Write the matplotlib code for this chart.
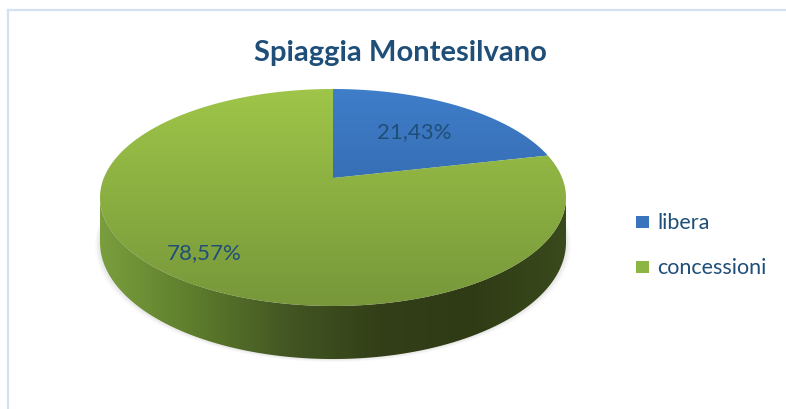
import numpy as np
import matplotlib
matplotlib.use('Agg')
import matplotlib.pyplot as plt
from matplotlib.patches import Polygon, Rectangle
from matplotlib.colors import to_rgb
from matplotlib.lines import Line2D

# ---- data ----
title = 'Spiaggia Montesilvano'
categories = ['libera', 'concessioni']
values = [21.43, 78.57]
value_labels = ['21,43%', '78,57%']
top_colors = [('#3f7eca', '#2c5a98'), ('#9fc649', '#77973a')]
legend_colors = ['#3a74bd', '#8db544']
side_stops = ['#7a9e3e', '#5d7d2c', '#435623', '#333f18', '#2f3b15', '#3a4a1c']
text_color = '#1f4e79'

# ---- layout / projection (pixel space) ----
W, H = 786, 410
CX, CY = 333.0, 179.0
A, B, K, T = 229.2, 105.0, 0.1797, 43.5

fig = plt.figure(figsize=(W / 100, H / 100), dpi=100)
ax = fig.add_axes([0, 0, 1, 1])
ax.set_xlim(0, W)
ax.set_ylim(H, 0)
ax.axis('off')


def proj(t_deg, r=1.0, depth=0.0):
    t = np.radians(t_deg)
    u = r * np.cos(t)
    v = r * np.sin(t)
    den = 1 + K * v
    return CX + A * u / den, CY - B * v / den + depth / den


def grad_colors(stops, n):
    cols = np.array([to_rgb(c) for c in stops])
    xs = np.linspace(0, 1, len(stops))
    q = np.linspace(0, 1, n)
    return np.stack([np.interp(q, xs, cols[:, i]) for i in range(3)], axis=-1)


# shadow under the pie
tt = np.linspace(0, 360, 400)
for off, al in [(5, 0.04), (3.5, 0.05), (2, 0.07)]:
    bx, by = proj(tt, 1.0, T)
    sx = CX + (bx - CX) * (1 + off / 233)
    sy = by + off * 0.6
    ax.add_patch(Polygon(np.column_stack([sx, sy]), closed=True,
                         facecolor='#808080', edgecolor='none', alpha=al, zorder=1))

# side (front visible part)
t_right = np.degrees(np.arcsin(-K))
t_left = 180 - t_right
ts = np.linspace(t_left, 360 + t_right, 300)
tx, ty = proj(ts, 1.0, 0)
bx, by = proj(ts[::-1], 1.0, T)
side_poly = Polygon(np.column_stack([np.r_[tx, bx], np.r_[ty, by]]), closed=True,
                    facecolor='none', edgecolor='none', zorder=2)
ax.add_patch(side_poly)
x0, x1 = tx.min(), tx.max()
side_img = grad_colors(side_stops, 256)[None, :, :]
im = ax.imshow(side_img, extent=(x0, x1, by.max() + 2, ty.min() - 2), origin='upper',
               aspect='auto', interpolation='bilinear', zorder=2)
im.set_clip_path(side_poly)

# top surface wedges
ya = proj(90, 1.0)[1]
yb = proj(270, 1.0)[1]
start = 90.0
total = sum(values)
label_r = [0.62, 0.8]
for i, val in enumerate(values):
    span = 360.0 * val / total
    ang = np.linspace(start, start - span, 200)
    ax_, ay_ = proj(ang, 1.0)
    pts = np.column_stack([np.r_[CX, ax_], np.r_[CY, ay_]])
    poly = Polygon(pts, closed=True, facecolor='none', edgecolor='none', zorder=3)
    ax.add_patch(poly)
    img = grad_colors(top_colors[i], 256)[:, None, :]
    wi = ax.imshow(img, extent=(x0 - 2, x1 + 2, yb + 2, ya - 2), origin='upper',
                   aspect='auto', interpolation='bilinear', zorder=3)
    wi.set_clip_path(poly)
    mid = start - span / 2
    lx, ly = proj(mid, label_r[i])
    ax.text(lx, ly, value_labels[i], ha='center', va='center', fontsize=16,
            family=['Lato', 'DejaVu Sans'], color=text_color, zorder=5)
    start -= span

ax.set_xlim(0, W)
ax.set_ylim(H, 0)

# title
ax.text(400, 61.5, title, ha='center', va='baseline', fontsize=21, fontweight='bold',
        family=['Lato', 'DejaVu Sans'], color=text_color, zorder=5)

# legend
leg_y = [223, 268]
for i, cat in enumerate(categories):
    ax.add_patch(Rectangle((636, leg_y[i] - 6), 13, 12, facecolor=legend_colors[i],
                           edgecolor='none', zorder=5))
    ax.text(657, leg_y[i], cat, ha='left', va='center', fontsize=15.5,
            family=['Lato', 'DejaVu Sans'], color=text_color, zorder=5)

# chart border (top and left visible)
ax.add_line(Line2D([7.5, W], [10.5, 10.5], color='#d5e1f2', lw=1.6, zorder=6))
ax.add_line(Line2D([7.5, 7.5], [10.5, H], color='#d5e1f2', lw=1.6, zorder=6))

fig.savefig('out.png', dpi=100, facecolor='white')
